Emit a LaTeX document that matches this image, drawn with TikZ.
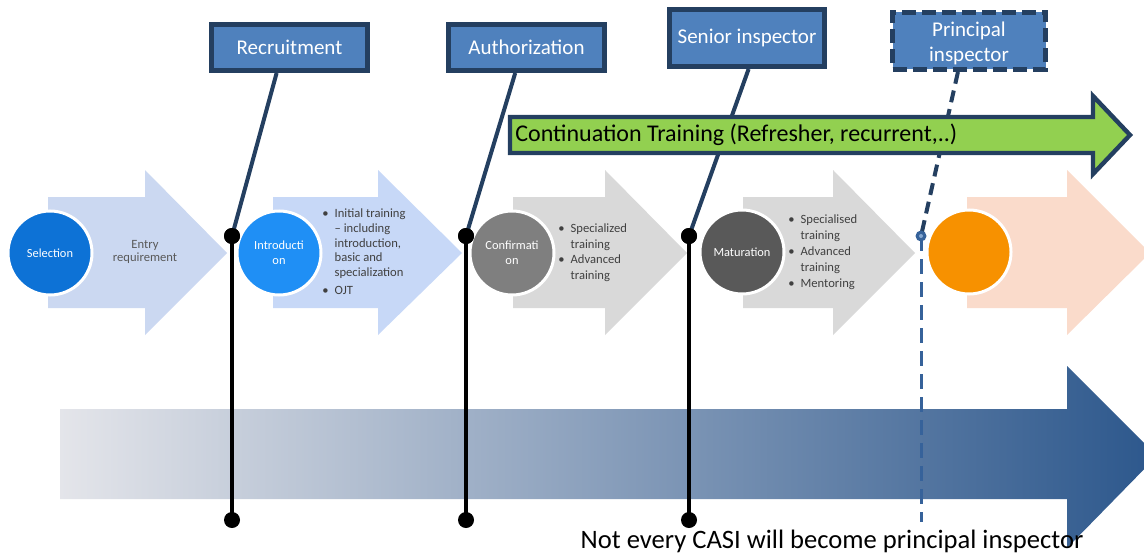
\documentclass[tikz,border=0pt]{standalone}
\usepackage{fontspec}
\setmainfont{Carlito}
\usetikzlibrary{calc}
\definecolor{navy}{HTML}{243F60}
\definecolor{boxblue}{HTML}{4F81BD}
\definecolor{greenA}{HTML}{92D050}
\definecolor{arrA}{HTML}{CBD8F1}
\definecolor{arrB}{HTML}{C7D8F7}
\definecolor{arrG}{HTML}{D9D9D9}
\definecolor{arrP}{HTML}{FADBCB}
\definecolor{cSel}{HTML}{0D72D6}
\definecolor{cInt}{HTML}{1F8FF5}
\definecolor{cCon}{HTML}{7F7F7F}
\definecolor{cMat}{HTML}{595959}
\definecolor{cOra}{HTML}{F79100}
\definecolor{txtG}{HTML}{404040}
\definecolor{txtE}{HTML}{595959}
\definecolor{dashBlue}{HTML}{36629A}
\definecolor{gradL}{HTML}{E4E5EA}
\definecolor{gradM}{HTML}{A7AFBF}
\definecolor{gradR}{HTML}{2C578C}
\begin{document}
\begin{tikzpicture}[x=0.5pt,y=-0.5pt,
  topbox/.style={draw=navy, fill=boxblue, line width=2.5pt, text=white,
    font=\fontsize{10.5}{12.5}\selectfont, minimum width=78pt, minimum height=23pt,
    inner sep=0pt, align=center},
  conn/.style={draw=navy, line width=2pt},
  vline/.style={draw=black, line width=2pt},
  bdot/.style={circle, fill=black, minimum size=8pt, inner sep=0pt},
  circ/.style={circle, draw=white, line width=1.5pt, minimum size=42pt, inner sep=0pt,
    text=white, font=\fontsize{6.2}{7.6}\selectfont, align=center},
  lst/.style={text=txtG, inner sep=0pt, align=left}
]
\useasboundingbox (0,0) rectangle (1144,556);
\clip (0,0) rectangle (1144,556);

% bottom gradient arrow
\path[left color=gradL, middle color=gradM, right color=gradR]
  (60,409) -- (1067,409) -- (1067,366) -- (1157,456) -- (1067,548) -- (1067,499) -- (60,499) -- cycle;

% process arrows
\fill[arrA] (48,197) -- (145,197) -- (145,170) -- (227,253) -- (145,335) -- (145,308) -- (48,308) -- cycle;
\fill[arrB] (273,197) -- (378,197) -- (378,170) -- (462,253) -- (378,335) -- (378,308) -- (273,308) -- cycle;
\fill[arrG] (513,197) -- (605,197) -- (605,170) -- (687,253) -- (605,335) -- (605,308) -- (513,308) -- cycle;
\fill[arrG] (743,197) -- (833,197) -- (833,170) -- (915,253) -- (833,335) -- (833,308) -- (743,308) -- cycle;
\fill[arrP] (967,197) -- (1067,197) -- (1067,170) -- (1150,253) -- (1067,335) -- (1067,308) -- (967,308) -- cycle;

% circles
\node[circ, fill=cSel] (sel) at (50,253) {Selection};
\node[circ, fill=cInt] (intro) at (279,253) {Introducti\\on};
\node[circ, fill=cCon] (conf) at (512,253) {Confirmati\\on};
\node[circ, fill=cMat] (mat) at (742,252) {Maturation};
\node[circ, fill=cOra] (ora) at (969,252) {};

% texts in arrows
\node[text=txtE, font=\fontsize{6.3}{6.6}\selectfont, align=center] (entry) at (145,252) {Entry\\requirement};
\node[lst, anchor=west] (l2) at (322,253) {\fontsize{6.3}{7.3}\selectfont
  \begin{tabular}{@{}l@{\hspace{3pt}}l@{}}
  \textbullet & Initial training\\ & – including\\ & introduction,\\ & basic and\\ & specialization\\[1.6pt]
  \textbullet & OJT
  \end{tabular}};
\node[lst, anchor=west] (l3) at (558,253) {\fontsize{6.3}{7.7}\selectfont
  \begin{tabular}{@{}l@{\hspace{3pt}}l@{}}
  \textbullet & Specialized\\ & training\\
  \textbullet & Advanced\\ & training
  \end{tabular}};
\node[lst, anchor=west] (l4) at (788,252) {\fontsize{6.3}{8}\selectfont
  \begin{tabular}{@{}l@{\hspace{3pt}}l@{}}
  \textbullet & Specialised\\ & training\\
  \textbullet & Advanced\\ & training\\
  \textbullet & Mentoring
  \end{tabular}};

% bottom text
\node[font=\fontsize{13.3}{15}\selectfont, inner sep=0pt] (note) at (832,541) {Not every CASI will become principal inspector};

% top boxes (positions)
\node[topbox] (rec) at (289.5,47.5) {Recruitment};
\node[topbox] (aut) at (526.5,47.5) {Authorization};
\node[topbox, minimum width=77.5pt, minimum height=28.5pt] (sen) at (747,38) {Senior inspector};
\node[topbox, dash pattern=on 7pt off 3pt, minimum width=76.5pt, minimum height=28.5pt] (pri) at (969,41) {};

% dots
\node[bdot] (d1) at (232,236) {};
\node[bdot] (e1) at (232,520) {};
\node[bdot] (d2) at (466,236) {};
\node[bdot] (e2) at (466,520) {};
\node[bdot] (d3) at (689,236) {};
\node[bdot] (e3) at (689,520) {};
\coordinate (e4) at (921,522);

% connectors
\draw[conn] ($(rec.south west)!0.42!(rec.south east)$) -- (d1.center);
\draw[conn] ($(aut.south west)!0.43!(aut.south east)$) -- (d2.center);
\draw[conn] ($(sen.south west)!0.51!(sen.south east)$) -- (d3.center);
\draw[conn, dash pattern=on 6pt off 3.5pt] ($(pri.south west)!0.43!(pri.south east)$) -- (921,236);
\draw[vline] (d1.center) -- (e1.center);
\draw[vline] (d2.center) -- (e2.center);
\draw[vline] (d3.center) -- (e3.center);
\draw[dashBlue, line width=1.5pt, dash pattern=on 7.5pt off 4pt] (921,236) -- (e4);
\node[circle, fill=dashBlue, minimum size=5.5pt, inner sep=0pt] (d4) at (921,236) {};
\fill[boxblue!70!white] (d4.center) circle (1pt);
\node[bdot] at (d1) {};
\node[bdot] at (d2) {};
\node[bdot] at (d3) {};

% green arrow
\draw[fill=greenA, draw=navy, line width=2.2pt]
  (510,117) -- (1093,117) -- (1093,96) -- (1130,135) -- (1093,174) -- (1093,153) -- (510,153) -- cycle;
\node[anchor=west, inner sep=0pt, font=\fontsize{12}{14}\selectfont] (cont) at (515,135) {Continuation Training (Refresher, recurrent,..)};

% redraw top boxes over connectors
\node[topbox] at (rec) {Recruitment};
\node[topbox] at (aut) {Authorization};
\node[topbox, minimum width=77.5pt, minimum height=28.5pt] at (sen) {\raisebox{-1pt}{Senior inspector}};
\node[topbox, dash pattern=on 7pt off 3pt, minimum width=76.5pt, minimum height=28.5pt] at (pri) {};
\node[text=white, font=\fontsize{10.5}{12.5}\selectfont, align=center, inner sep=0pt] (pritxt) at (969,43) {Principal\\inspector};
\end{tikzpicture}
\end{document}
